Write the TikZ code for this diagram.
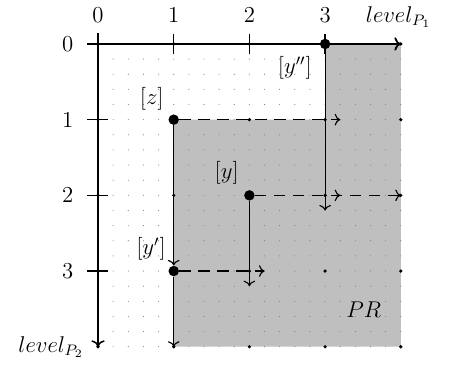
\documentclass[tikz,border=0pt]{standalone}
\usepackage{tikz}
\usetikzlibrary{arrows.meta, positioning}
\tikzset{
  axis/.style={thick, -{To}},
  tick/.style={thick},
  move/.style={semithick, -{To}},
  skip/.style={semithick, -{To}, dash pattern=on 6pt off 4pt},
  region/.style={fill=gray!50},
  bigdot/.style={circle, fill=black, inner sep=0pt, minimum size=5.5pt},
  smalldot/.style={fill=black},
  finedot/.style={fill=gray},
  lbl/.style={font=\large},
}

\begin{document}
\begin{tikzpicture}[x=1.4cm, y=-1.4cm]
  \useasboundingbox (-1.295,-0.581) rectangle (4.756,4.267);
  % grid points
  \foreach \i in {0,...,4}
    \foreach \j in {0,...,4}
      \coordinate (p\i\j) at (\i,\j);
  % region PR
  \fill[region] (p30) -- (p40) -- (p44) -- (p14) -- (p11) -- (p31) -- cycle;
  % fine dot grid
  \foreach \i in {1,...,20}
    \foreach \j in {1,...,20}
      \fill[finedot] (\i*0.2,\j*0.2) circle (0.3pt);
  % axes
  \coordinate (xstart) at (-0.14,0);
  \coordinate (ystart) at (0,-0.14);
  \draw[axis] (xstart) -- (p40);
  \draw[axis] (ystart) -- (p04);
  \foreach \i in {1,2,3} {
    \draw[tick] (\i,-0.13) -- (\i,0.13);
    \draw[tick] (-0.14,\i) -- (0.13,\i);
  }
  % axis labels
  \foreach \i in {0,...,3} {
    \node[lbl, anchor=base] (xl\i) at (\i,-0.29) {$\i$};
    \node[lbl] (yl\i) at (-0.40,\i) {$\i$};
  }
  \node[lbl, anchor=base] (xname) at (3.97,-0.29) {$level_{P_1}$};
  \node[lbl, anchor=base] (yname) at (-0.62,4.07) {$level_{P_2}$};
  % states
  \node[bigdot] (ypp) at (p30) {};
  \node[bigdot] (z) at (p11) {};
  \node[bigdot] (y) at (p22) {};
  \node[bigdot] (yp) at (p13) {};
  % arrow ends
  \coordinate (e1) at (3.2,1);
  \coordinate (e2) at (3,2.2);
  \coordinate (e3) at (3.2,2);
  \coordinate (e4) at (2,3.2);
  \coordinate (e5) at (2.2,3);
  % moves
  \draw[skip] (ypp) -- (p40);
  \draw[move] (ypp) -- (e2);
  \draw[skip] (z) -- (e1);
  \draw[move] (z) -- (yp);
  \draw[skip] (y) -- (e3);
  \draw[skip] (y) -- (p42);
  \draw[move] (y) -- (e4);
  \draw[skip] (yp) -- (e5);
  \draw[move] (yp) -- (p14);
  % integer points
  \foreach \i in {0,...,4}
    \foreach \j in {0,...,4}
      \fill[smalldot] (p\i\j) circle (0.95pt);
  % labels
  \node[lbl] (lypp) at (2.60,0.32) {$[y'']$};
  \node[lbl] (lz) at (0.71,0.73) {$[z]$};
  \node[lbl] (ly) at (1.70,1.70) {$[y]$};
  \node[lbl] (lyp) at (0.70,2.71) {$[y']$};
  \node[lbl] (lpr) at (3.51,3.51) {$PR$};
\end{tikzpicture}
\end{document}
